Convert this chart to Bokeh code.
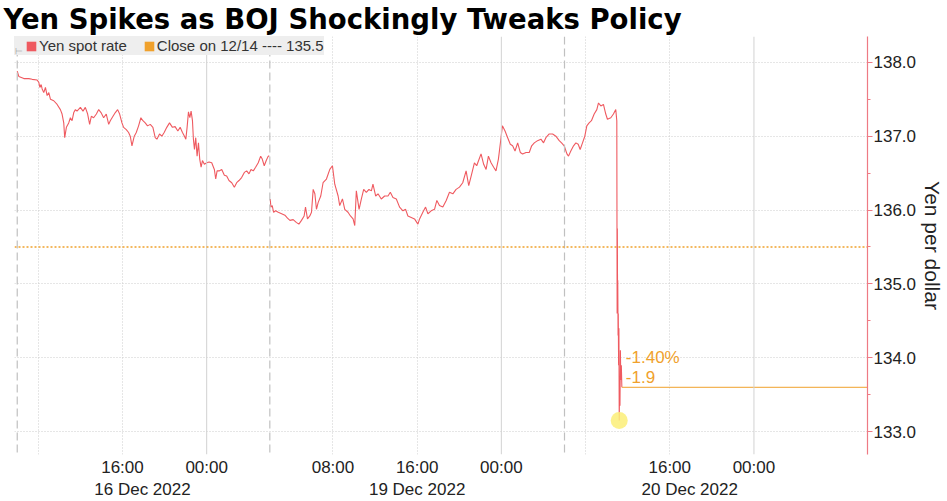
import math
import numpy as np
from bokeh.plotting import figure
from bokeh.models import (Range1d, FixedTicker, SingleIntervalTicker, NumeralTickFormatter,
                          Span, Legend, LegendItem, Label, LinearAxis)
from bokeh.embed import file_html
from bokeh.resources import INLINE

# ---------------- data ----------------
# x = trading hours since Fri 16 Dec 06:00 (weekend removed); y = USD/JPY
fri_hours = [0.00, 0.15, 0.63, 1.10, 1.42, 1.89, 2.05, 2.15, 2.27, 2.37, 2.52, 2.68, 2.84, 3.00,
             3.16, 3.47, 3.79, 4.10, 4.26, 4.42, 4.51, 4.67, 4.89, 5.05, 5.21, 5.37, 5.53, 5.68,
             6.00, 6.25, 6.47, 6.69, 6.88, 7.04, 7.26, 7.52, 7.74, 7.96, 8.21, 8.46, 8.69, 8.84,
             9.10, 9.32, 9.54, 9.73, 9.95, 10.11, 10.36, 10.58, 10.74, 10.90, 11.12, 11.31, 11.53,
             11.75, 11.94, 12.16, 12.38, 12.64, 12.89, 13.11, 13.27, 13.52, 13.74, 13.96, 14.21,
             14.47, 14.75, 15.00, 15.26, 15.48, 15.70, 15.89, 16.02, 16.14, 16.27, 16.40, 16.52,
             16.65, 16.74, 16.84, 16.96, 17.09, 17.22, 17.34, 17.47, 17.60, 17.78, 18.01, 18.23,
             18.48, 18.73, 18.86, 18.99, 19.18, 19.43, 19.68, 19.90, 20.12, 20.38, 20.63, 20.85,
             21.07, 21.32, 21.58, 21.80, 22.02, 22.21, 22.43, 22.65, 22.90, 23.13, 23.28, 23.47,
             23.66, 23.85, 23.95]
fri_rate = [137.88, 137.81, 137.78, 137.78, 137.77, 137.76, 137.73, 137.66, 137.70, 137.64, 137.59,
            137.66, 137.55, 137.59, 137.50, 137.48, 137.43, 137.36, 137.30, 137.18, 136.98, 137.12,
            137.18, 137.25, 137.21, 137.32, 137.36, 137.34, 137.39, 137.34, 137.39, 137.30, 137.16,
            137.27, 137.25, 137.30, 137.36, 137.32, 137.25, 137.30, 137.16, 137.21, 137.27, 137.32,
            137.36, 137.30, 137.18, 137.12, 137.09, 137.05, 137.00, 136.87, 137.00, 137.05, 137.14,
            137.25, 137.21, 137.18, 137.14, 137.16, 137.12, 136.98, 136.96, 137.03, 137.00, 137.05,
            137.12, 137.18, 137.12, 137.13, 137.07, 137.12, 137.05, 137.00, 136.96, 137.12, 137.33,
            137.25, 137.34, 137.21, 136.96, 136.82, 136.98, 136.73, 136.91, 136.69, 136.58, 136.67,
            136.62, 136.64, 136.65, 136.64, 136.55, 136.42, 136.53, 136.53, 136.55, 136.47, 136.46,
            136.40, 136.37, 136.31, 136.37, 136.40, 136.44, 136.51, 136.53, 136.49, 136.55, 136.53,
            136.58, 136.64, 136.73, 136.69, 136.60, 136.67, 136.73, 136.73]
mon_hours = [24.04, 24.10, 24.23, 24.36, 24.55, 24.80, 25.12, 25.43, 25.68, 25.91, 26.22, 26.54,
             26.76, 27.01, 27.26, 27.39, 27.58, 27.80, 27.96, 28.12, 28.28, 28.43, 28.59, 28.84,
             29.06, 29.38, 29.70, 29.95, 30.17, 30.49, 30.64, 30.90, 31.12, 31.43, 31.66, 31.91,
             32.07, 32.22, 32.48, 32.70, 32.92, 33.17, 33.42, 33.65, 33.80, 34.06, 34.28, 34.59,
             34.91, 35.23, 35.45, 35.70, 36.02, 36.33, 36.65, 36.90, 37.12, 37.44, 37.75, 38.07,
             38.23, 38.54, 38.80, 39.02, 39.33, 39.65, 39.87, 40.12, 40.44, 40.76, 41.07, 41.39,
             41.70, 42.02, 42.33, 42.65, 42.90, 43.13, 43.44, 43.66, 43.76, 44.07, 44.32, 44.55,
             44.77, 45.02, 45.27, 45.49, 45.72, 45.91, 46.10, 46.35, 46.60, 46.85, 47.07, 47.30,
             47.55, 47.80, 48.02, 48.34, 48.65, 48.88, 49.13, 49.44, 49.76, 50.01, 50.23, 50.55,
             50.87, 51.18, 51.50, 51.72, 51.97, 52.23, 52.38, 52.60, 52.86, 53.08, 53.30, 53.49,
             53.71, 53.93, 54.12, 54.34, 54.56, 54.82, 55.07, 55.23, 55.45, 55.70, 55.92, 56.08,
             56.40, 56.65, 56.87, 56.97, 57.00, 57.02, 57.04, 57.06, 57.09, 57.11, 57.14, 57.17,
             57.20, 57.23, 57.27, 57.31, 57.35, 57.40, 57.45]
mon_rate = [136.15, 136.04, 136.06, 135.97, 135.99, 135.97, 135.95, 135.93, 135.89, 135.86, 135.87,
            135.83, 135.81, 135.86, 135.92, 136.04, 135.88, 135.92, 135.97, 136.28, 136.22, 136.01,
            136.10, 136.19, 136.37, 136.42, 136.55, 136.60, 136.35, 136.19, 136.06, 136.15, 136.01,
            135.97, 135.92, 135.88, 135.79, 136.26, 136.01, 136.15, 136.28, 136.24, 136.28, 136.26,
            136.35, 136.19, 136.22, 136.15, 136.19, 136.19, 136.24, 136.17, 136.15, 136.04, 135.99,
            136.01, 135.92, 135.90, 135.88, 135.81, 135.88, 135.97, 136.04, 135.95, 135.99, 136.01,
            136.13, 136.06, 136.04, 136.13, 136.24, 136.22, 136.28, 136.31, 136.37, 136.53, 136.33,
            136.46, 136.64, 136.60, 136.64, 136.76, 136.62, 136.55, 136.73, 136.64, 136.58, 136.53,
            136.69, 136.91, 137.14, 137.07, 136.98, 136.89, 136.87, 136.80, 136.91, 136.78, 136.76,
            136.78, 136.78, 136.87, 136.91, 136.94, 136.96, 136.91, 136.98, 137.03, 137.03, 137.00,
            136.94, 136.91, 136.87, 136.76, 136.73, 136.80, 136.87, 136.91, 136.89, 136.82, 136.91,
            137.00, 137.14, 137.18, 137.21, 137.30, 137.36, 137.45, 137.41, 137.43, 137.30, 137.23,
            137.25, 137.30, 137.36, 137.21, 134.60, 135.75, 134.90, 135.05, 134.30, 134.60, 133.90,
            134.40, 133.15, 133.55, 133.35, 134.10, 133.70, 133.90, 133.60]
close_1214 = 135.5

dotted_grid_hours = [2, 10, 30, 38, 54, 62]
midnight_hours = [18, 46, 70]
session_break_hours = [0, 24, 52]
time_tick_hours = [10, 18, 30, 38, 46, 62, 70]
time_tick_labels = ["16:00", "00:00", "08:00", "16:00", "00:00", "16:00", "00:00"]
date_label_hours = [11.9, 38.0, 63.9]
date_labels = ["16 Dec 2022", "19 Dec 2022", "20 Dec 2022"]

# ---------------- figure ----------------
RED = "#ef5a60"
ORANGE = "#f0a12c"
AXIS_RED = "#ee7a84"
TEXT = "#222222"
NAN = float("nan")

x_rng = Range1d(-0.26, 80.79)
y_rng = Range1d(132.69, 138.35)

p = figure(width=947, height=501, x_range=x_rng, y_range=y_rng,
           y_axis_location="right", output_backend="svg", toolbar_location=None,
           min_border_left=14, min_border_right=78, min_border_top=36, min_border_bottom=46,
           background_fill_color="white", border_fill_color="white")
p.outline_line_color = None

p.title.text = "Yen Spikes as BOJ Shockingly Tweaks Policy"
p.title.text_font = "DejaVu Sans"
p.title.text_font_style = "bold"
p.title.text_font_size = "27.5px"
p.title.text_color = "black"
p.title.align = "left"
p.title.vertical_align = "top"
p.title.offset = -11
p.title.standoff = 0

# grids
p.ygrid.ticker = SingleIntervalTicker(interval=1)
p.ygrid.grid_line_color = "#cccccc"
p.ygrid.grid_line_dash = "1 2"
p.xgrid.ticker = FixedTicker(ticks=dotted_grid_hours)
p.xgrid.grid_line_color = "#cccccc"
p.xgrid.grid_line_dash = "1 2"

for h in midnight_hours:
    p.add_layout(Span(location=h, dimension="height", line_color="#d2d2d2", line_width=1))
for h in session_break_hours:
    p.add_layout(Span(location=h, dimension="height", line_color="#c0c0c0", line_width=1.2,
                      line_dash="8 4"))

# close line
p.add_layout(Span(location=close_1214, dimension="width", line_color=ORANGE, line_width=1.5,
                  line_dash="2 2"))

# series
hours = fri_hours + [NAN] + mon_hours
rate = fri_rate + [NAN] + mon_rate
p.line(hours, rate, line_color=RED, line_width=1.1)

last_h, last_v = mon_hours[-1], mon_rate[-1]
p.ray(x=[last_h], y=[last_v], length=0, angle=0, line_color=ORANGE, line_width=1)

i_min = int(np.argmin(mon_rate))
p.scatter([mon_hours[i_min]], [mon_rate[i_min]], size=17, fill_color="#fbef78",
          fill_alpha=0.85, line_color=None)

diff = last_v - close_1214
pct = diff / close_1214 * 100
p.add_layout(Label(x=last_h, y=last_v, x_offset=4, y_offset=30, text=f"{pct:.2f}%",
                   text_color=ORANGE, text_font="Liberation Sans", text_font_size="17px",
                   text_baseline="middle"))
p.add_layout(Label(x=last_h, y=last_v, x_offset=4, y_offset=10, text=f"{diff:.1f}",
                   text_color=ORANGE, text_font="Liberation Sans", text_font_size="17px",
                   text_baseline="middle"))

# axes
def style_bottom(ax, ticks, labels, standoff):
    ax.ticker = FixedTicker(ticks=ticks)
    ax.major_label_overrides = {t: l for t, l in zip(ticks, labels)}
    ax.axis_line_color = None
    ax.major_tick_line_color = None
    ax.minor_tick_line_color = None
    ax.major_tick_out = 0
    ax.major_tick_in = 0
    ax.minor_tick_out = 0
    ax.major_label_standoff = standoff
    ax.axis_label_standoff = 0
    ax.major_label_text_font = "Liberation Sans"
    ax.major_label_text_font_size = "17px"
    ax.major_label_text_color = TEXT

style_bottom(p.xaxis[0], time_tick_hours, time_tick_labels, 3)
date_axis = LinearAxis()
style_bottom(date_axis, date_label_hours, date_labels, 0)
p.add_layout(date_axis, "below")

ya = p.yaxis[0]
ya.ticker = SingleIntervalTicker(interval=1, num_minor_ticks=2)
ya.formatter = NumeralTickFormatter(format="0.0")
ya.axis_line_color = AXIS_RED
ya.axis_line_width = 1.2
ya.major_tick_line_color = AXIS_RED
ya.minor_tick_line_color = AXIS_RED
ya.major_tick_out = 5
ya.major_tick_in = 0
ya.minor_tick_out = 3
ya.minor_tick_in = 0
ya.major_label_standoff = 1
ya.major_label_text_font = "Liberation Sans"
ya.major_label_text_font_size = "17px"
ya.major_label_text_color = TEXT
ya.axis_label = "Yen per dollar"
ya.axis_label_text_font = "Liberation Sans"
ya.axis_label_text_font_size = "21px"
ya.axis_label_text_font_style = "normal"
ya.axis_label_text_color = TEXT
ya.axis_label_standoff = 2

# legend (dummy renderers hold a single NaN so that nothing is drawn in the plot)
r_spot = p.quad(left=[NAN], right=[NAN], top=[NAN], bottom=[NAN], fill_color=RED, line_color=None)
r_close = p.quad(left=[NAN], right=[NAN], top=[NAN], bottom=[NAN], fill_color=ORANGE,
                 line_color=None)
legend = Legend(items=[LegendItem(label="Yen spot rate", renderers=[r_spot]),
                       LegendItem(label=f"Close on 12/14 ---- {close_1214}", renderers=[r_close])],
                location="top_left", orientation="horizontal", margin=0, padding=3,
                spacing=16, glyph_width=12, glyph_height=12, label_standoff=2,
                label_height=19, label_text_font="Liberation Sans", label_text_font_size="15px",
                label_text_color="#333333", background_fill_color="#eeeeee",
                background_fill_alpha=1, border_line_color=None)
legend.title = "\u22a4"
legend.title_text_font_size = "9px"
legend.title_text_color = "#999999"
legend.title_text_font_style = "normal"
legend.title_standoff = 1
try:
    legend.title_location = "left"
except Exception:
    pass
p.add_layout(legend)

open("out.html", "w").write(file_html(p, INLINE))
